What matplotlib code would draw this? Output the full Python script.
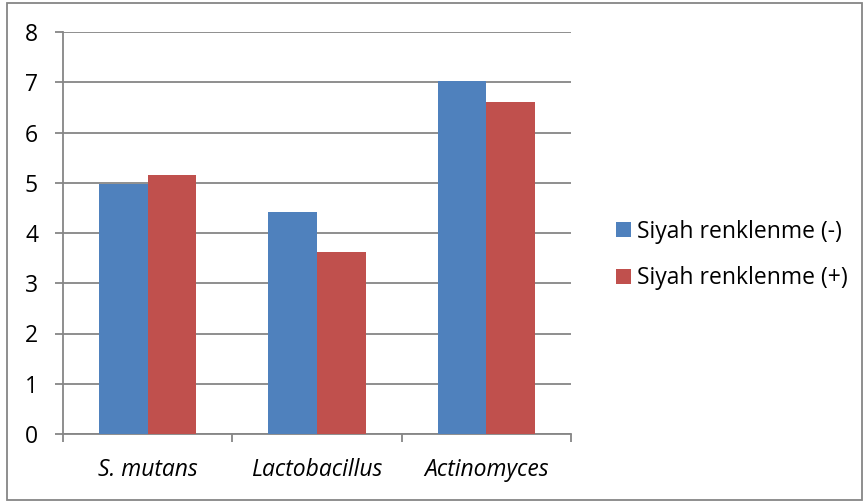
import matplotlib
matplotlib.use("Agg")
import matplotlib.pyplot as plt
import numpy as np
from matplotlib.patches import Rectangle

categories = ["S. mutans", "Lactobacillus", "Actinomyces"]
series_names = ["Siyah renklenme (-)", "Siyah renklenme (+)"]
neg_values = [4.98, 4.42, 7.03]
pos_values = [5.15, 3.63, 6.61]
colors = ["#4F81BD", "#C0504D"]

plt.rcParams['font.family'] = ['Open Sans', 'DejaVu Sans']
FS = 16.5

W, H = 866, 503
fig = plt.figure(figsize=(W/100, H/100), dpi=100)
ax = fig.add_axes([63/W, (H-434)/H, (571-63)/W, (434-32)/H])

x = np.arange(len(categories))
bw = 0.287
ax.bar(x - bw/2, neg_values, bw, color=colors[0], label=series_names[0], zorder=3)
ax.bar(x + bw/2, pos_values, bw, color=colors[1], label=series_names[1], zorder=3)

ax.set_xlim(-0.5, len(categories) - 0.5)
ax.set_ylim(0, 8)
ax.set_yticks(range(0, 9))
ax.yaxis.grid(True, color="#868686", linewidth=1.3, zorder=0)
for s in ["top", "right"]:
    ax.spines[s].set_visible(False)
for s in ["left", "bottom"]:
    ax.spines[s].set_color("#868686")
    ax.spines[s].set_linewidth(1.3)

ax.set_xticks(np.arange(-0.5, len(categories)), minor=False)
ax.set_xticklabels([])
ax.set_xticks(x, minor=True)
ax.set_xticklabels(categories, minor=True, style="italic", fontsize=FS)
ax.tick_params(axis="x", which="major", length=6, width=1.3, color="#868686", direction="out")
ax.tick_params(axis="x", which="minor", length=0, pad=17)
ax.tick_params(axis="y", length=6, width=1.3, color="#868686", labelsize=FS, pad=12)

leg = fig.legend(loc="center left", bbox_to_anchor=(595/W, 1 - 255/H), frameon=False,
                 fontsize=FS, handlelength=0.65, handleheight=0.65, labelspacing=1.0,
                 handletextpad=0.3)

fig.add_artist(Rectangle((7/W, 3/H), (862-7)/W, (500-3)/H, transform=fig.transFigure,
                         fill=False, edgecolor="#868686", linewidth=1.3))

fig.savefig("out.png", dpi=100)
